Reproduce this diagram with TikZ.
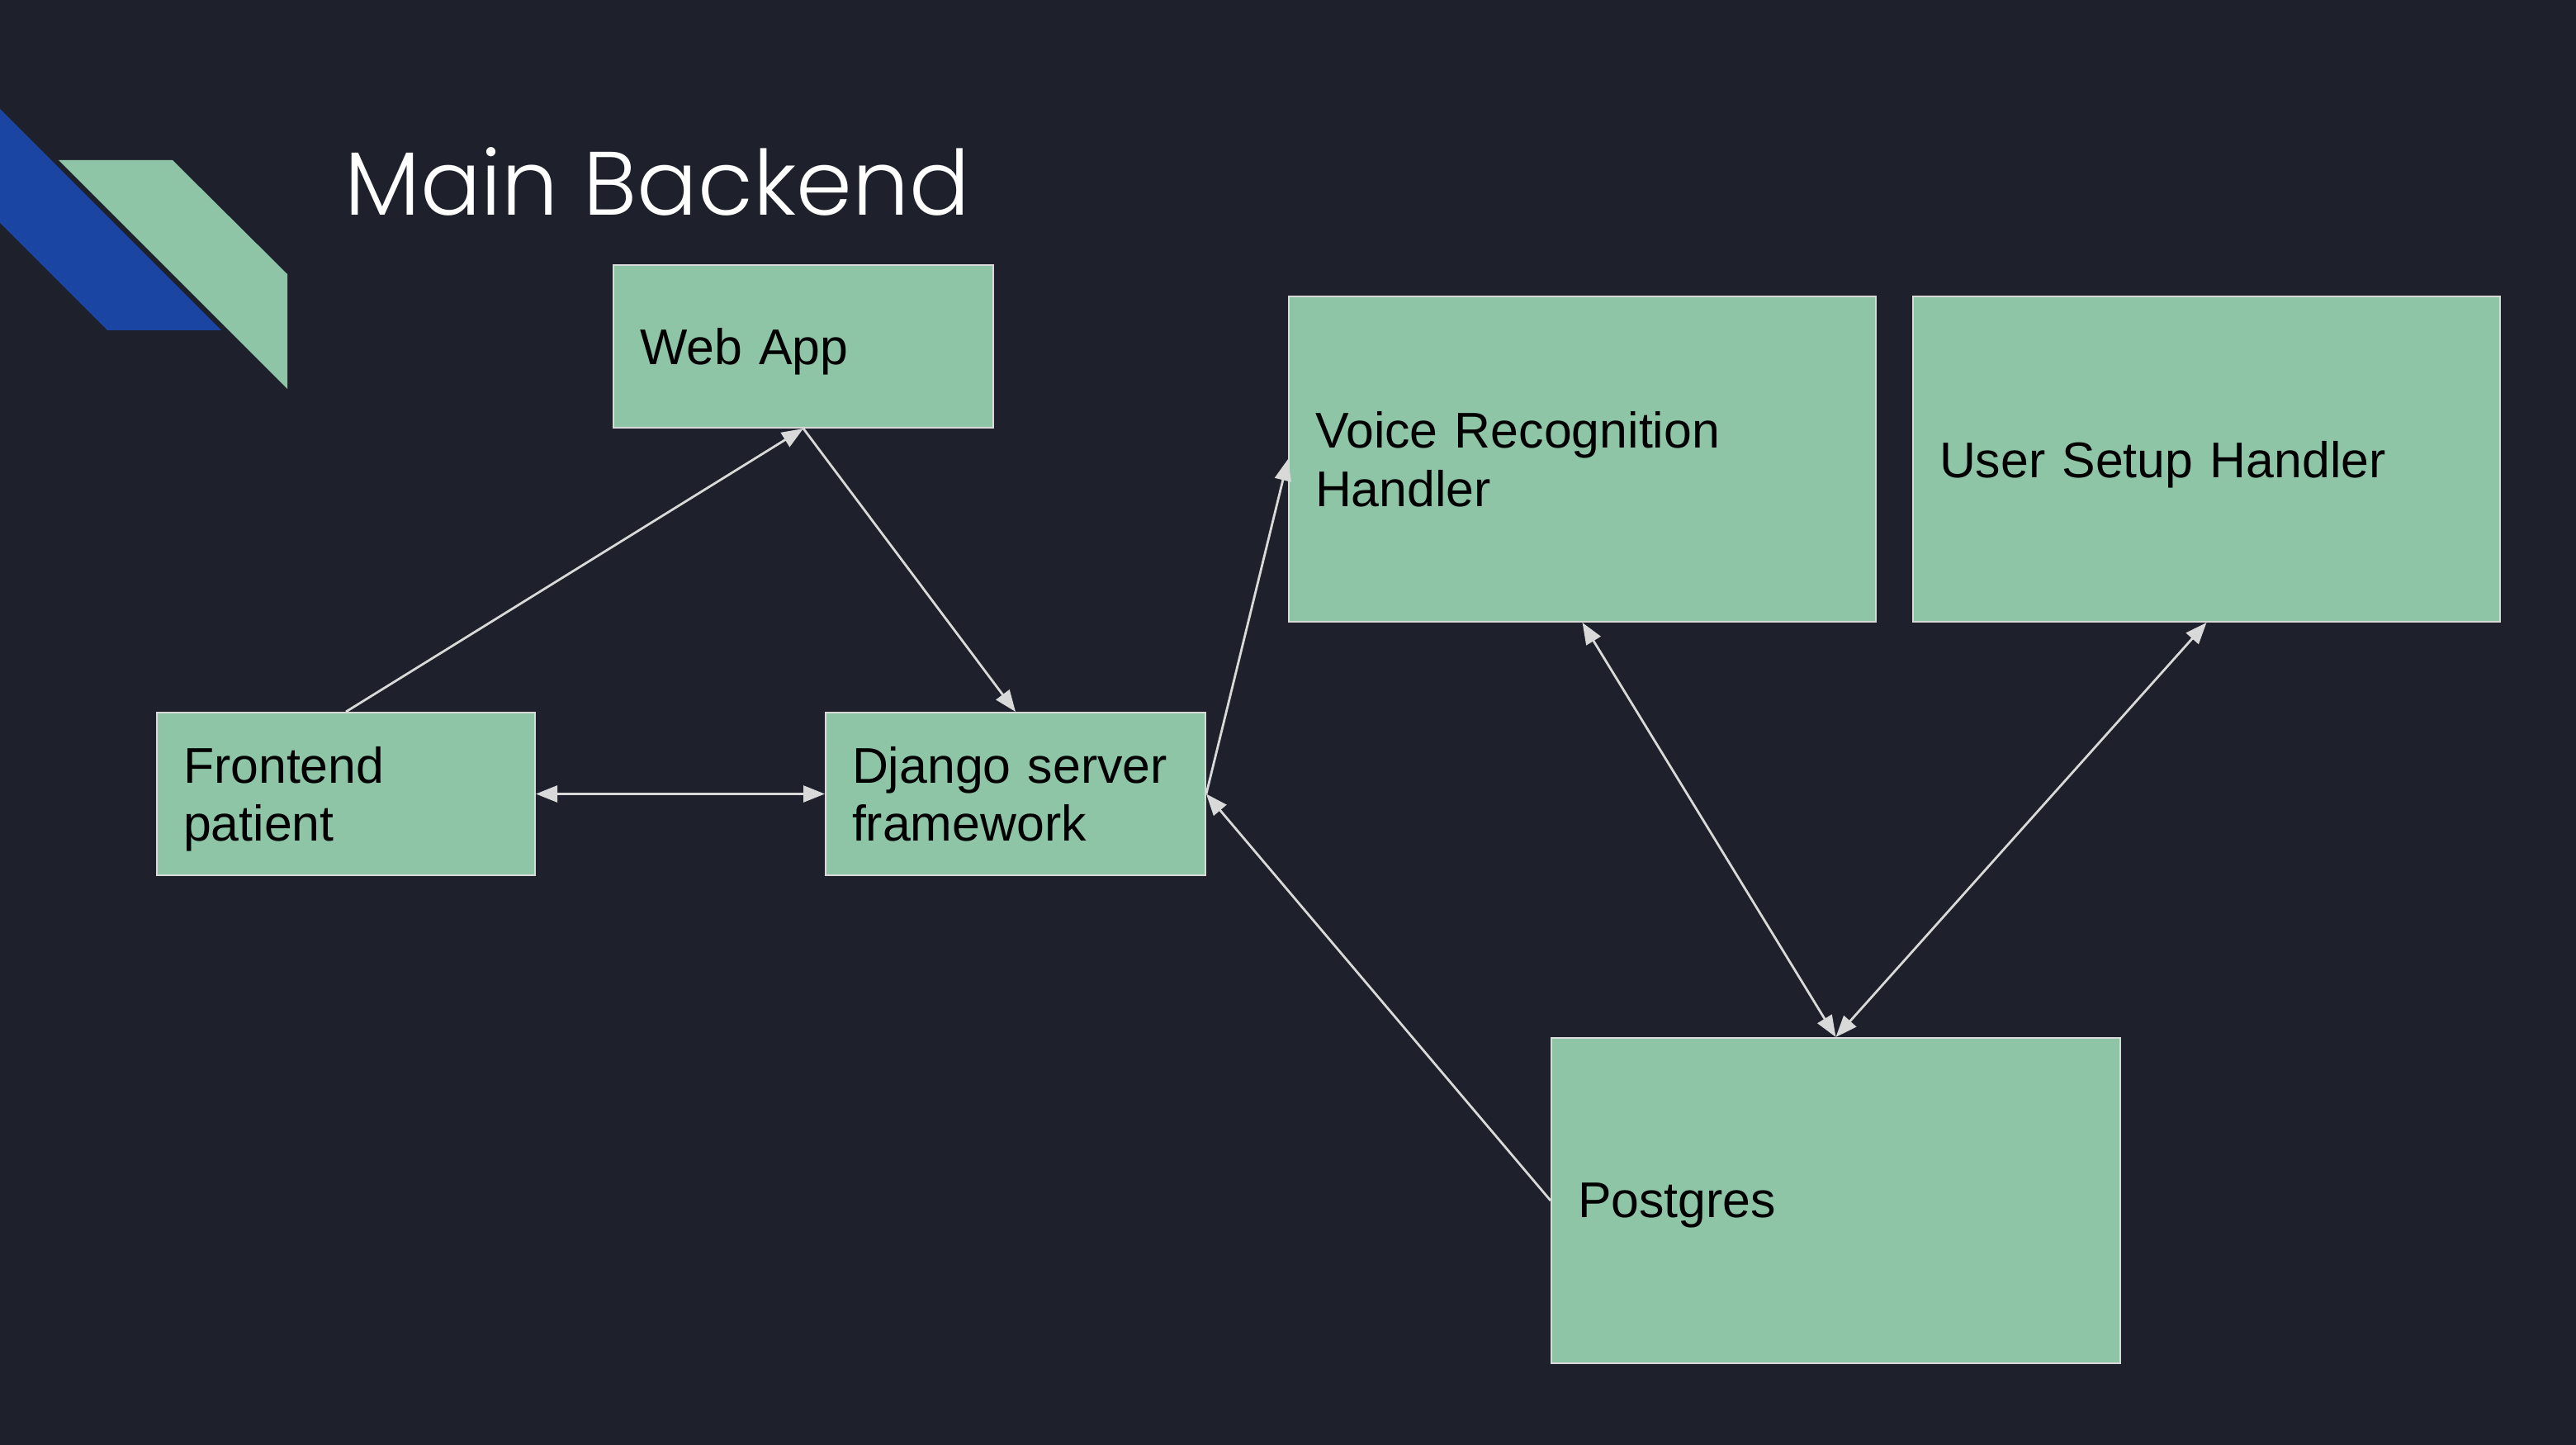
\documentclass[tikz,border=0pt]{standalone}
\usepackage{fontspec}
\setmainfont{Liberation Sans}
\newfontfamily\titlefont{Poppins}[UprightFont=* Light]
\usetikzlibrary{arrows.meta}
\definecolor{bg}{HTML}{1E212B}
\definecolor{boxgreen}{HTML}{8FC5A7}
\definecolor{deco}{HTML}{1A45A2}
\definecolor{linegray}{HTML}{D9D9D9}
\begin{document}
\begin{tikzpicture}[
  box/.style={draw=linegray, line width=0.02cm, fill=boxgreen, anchor=north west,
    inner xsep=0.32cm, inner ysep=0pt, align=left, text=black,
    font=\fontsize{17.3}{20}\selectfont},
  oneline/.style={text depth=0pt},
  twoline/.style={text depth=20pt},
  tip/.tip={Triangle[length=0.26cm,width=0.2cm]},
  conn/.style={draw=linegray, line width=0.028cm, -tip},
  bconn/.style={draw=linegray, line width=0.028cm, tip-tip}
]
\fill[bg] (0,0) rectangle (31.2,-17.5);
\useasboundingbox (0,0) rectangle (31.2,-17.5);
% decoration
\fill[deco] (0,-1.32) -- (2.68,-4.00) -- (1.30,-4.00) -- (0,-2.70) -- cycle;
\fill[boxgreen] (0.71,-1.94) -- (2.09,-1.94) -- (3.48,-3.32) -- (3.48,-4.71) -- cycle;
% title
\node[anchor=base west, inner sep=0pt, text=white, font=\titlefont\fontsize{31}{38}\selectfont] (title) at (4.17,-2.61) {Main Backend};
% boxes
\node[box, oneline, text width=3.96cm, minimum height=1.97cm] (webapp) at (7.42,-3.20) {Web App};
\node[box, twoline, text width=3.94cm, minimum height=1.97cm] (front) at (1.89,-8.62) {Frontend\\patient};
\node[box, twoline, text width=3.96cm, minimum height=1.97cm] (django) at (9.99,-8.62) {Django server\\framework};
\node[box, twoline, text width=6.47cm, minimum height=3.94cm] (voice) at (15.60,-3.58) {Voice Recognition\\Handler};
\node[box, oneline, text width=6.47cm, minimum height=3.94cm] (user) at (23.16,-3.58) {User Setup Handler};
\node[box, oneline, text width=6.25cm, minimum height=3.94cm] (pg) at (18.78,-12.56) {Postgres};
% connectors
\draw[conn] (front.north) -- (webapp.south);
\draw[conn] (webapp.south) -- (django.north);
\draw[bconn] (front.east) -- (django.west);
\draw[conn] (django.east) -- (voice.west);
\draw[conn] (pg.west) -- (django.east);
\draw[bconn] (voice.south) -- (pg.north);
\draw[bconn] (user.south) -- (pg.north);
\end{tikzpicture}
\end{document}
